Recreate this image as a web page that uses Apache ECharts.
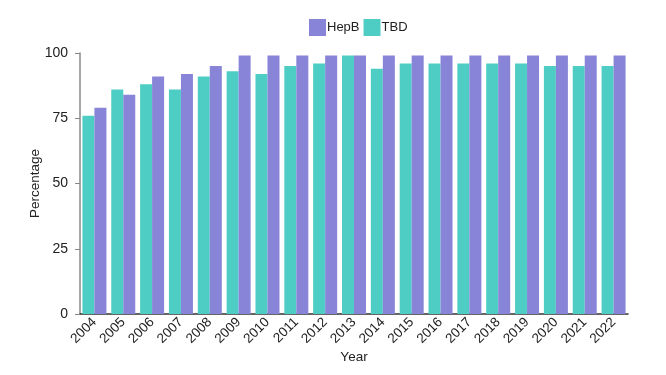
<!DOCTYPE html>
<html>
<head>
<meta charset="utf-8">
<script src="https://cdn.jsdelivr.net/npm/echarts@6/dist/echarts.min.js"></script>
<style>
  html, body { margin: 0; padding: 0; background: #fff; }
  #chart { width: 666px; height: 375px; }
</style>
</head>
<body>
<div id="chart"></div>
<script>
const years = ["2004", "2005", "2006", "2007", "2008", "2009", "2010", "2011", "2012", "2013",
  "2014", "2015", "2016", "2017", "2018", "2019", "2020", "2021", "2022"];
const tbd = [76, 86, 88, 86, 91, 93, 92, 95, 96, 99, 94, 96, 96, 96, 96, 96, 95, 95, 95];
const hepb = [79, 84, 91, 92, 95, 99, 99, 99, 99, 99, 99, 99, 99, 99, 99, 99, 99, 99, 99];
const yTicks = [0, 25, 50, 75, 100];

const font = "Liberation Sans, Arial, sans-serif";

var myChart = echarts.init(document.getElementById("chart"));
var option = {
  animation: false,
  textStyle: { fontFamily: font },
  legend: {
    top: 14,
    left: 304,
    data: ["HepB", "TBD"],
    itemWidth: 17,
    itemHeight: 17,
    itemGap: 4,
    icon: "rect",
    textStyle: { fontSize: 13, color: "#222", padding: [0, 0, 0, -4] },
  },
  grid: {
    left: 80,
    right: 38,
    top: 53,
    bottom: 61,
  },
  xAxis: {
    type: "category",
    data: years,
    name: "Year",
    nameLocation: "middle",
    nameGap: 36,
    nameMoveOverlap: false,
    nameTextStyle: { fontSize: 13.5, color: "#222" },
    axisLine: { lineStyle: { color: "#333", width: 1.5 } },
    axisTick: { show: false },
    axisLabel: {
      rotate: 45,
      fontSize: 13.5,
      color: "#222",
      margin: 6,
      interval: 0,
    },
  },
  yAxis: {
    type: "value",
    min: yTicks[0],
    max: yTicks[yTicks.length - 1],
    interval: 25,
    name: "Percentage",
    nameLocation: "middle",
    nameGap: 38,
    nameMoveOverlap: false,
    nameTextStyle: { fontSize: 13.5, color: "#222" },
    axisLine: { show: true, lineStyle: { color: "#888", width: 1.5 } },
    axisTick: { show: true, length: 5, lineStyle: { color: "#888" } },
    splitLine: { show: false },
    axisLabel: { fontSize: 14, color: "#222", margin: 12 },
  },
  series: [
    {
      name: "TBD",
      type: "bar",
      data: tbd,
      barWidth: 12,
      barGap: "0%",
      itemStyle: { color: "#4ecdc4" },
    },
    {
      name: "HepB",
      type: "bar",
      data: hepb,
      barWidth: 12,
      barGap: "0%",
      itemStyle: { color: "#8884d8" },
    },
  ],
};
myChart.setOption(option);
</script>
</body>
</html>
